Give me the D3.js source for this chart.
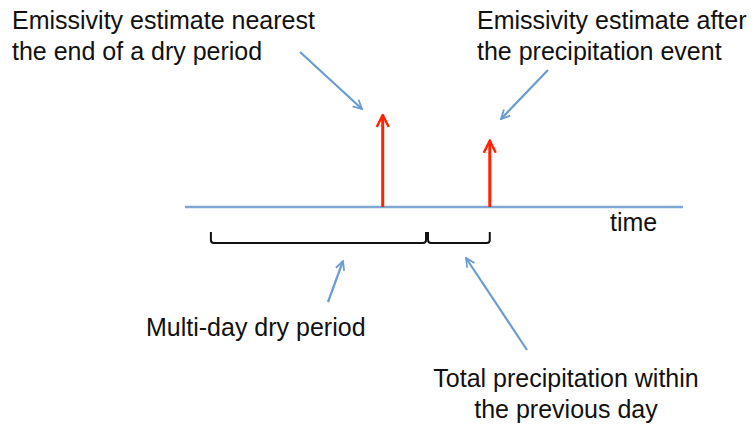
<!DOCTYPE html>
<html>
<head>
<meta charset="utf-8">
<script src="https://cdn.jsdelivr.net/npm/d3@7"></script>
<style>
  body { margin: 0; background: #fff; }
  svg text { font-family: "Liberation Sans", Arial, sans-serif; font-size: 25px; fill: #111; }
</style>
</head>
<body>
<div id="chart"></div>
<script>
// event positions along the time axis (0..1) and arrow heights (0..1)
const eventNames = ["end of dry period", "after precipitation"]
const eventTimes = [0.397, 0.612]
const eventHeights = [1.0, 0.72]

// periods under the axis
const periodNames = ["Multi-day dry period", "Total precipitation within the previous day"]
const periodStart = [0.052, 0.488]
const periodEnd = [0.484, 0.612]

const width = 756
const height = 428

const x = d3.scaleLinear().domain([0, 1]).range([185, 683])
const y = d3.scaleLinear().domain([0, 1]).range([207, 115])

const svg = d3.select("#chart").append("svg")
    .attr("width", width)
    .attr("height", height)

const defs = svg.append("defs")
function marker(id, color) {
    defs.append("marker")
        .attr("id", id)
        .attr("viewBox", "0 0 10 10")
        .attr("refX", 9).attr("refY", 5)
        .attr("markerWidth", 5).attr("markerHeight", 5)
        .attr("orient", "auto")
        .append("path")
        .attr("d", "M1,1 L9,5 L1,9")
        .attr("fill", "none")
        .attr("stroke", color)
        .attr("stroke-width", 1.6)
}
marker("red", "#ff2200")
marker("blue", "#6a9bd1")

// time axis
svg.append("line")
    .attr("x1", x(0)).attr("x2", x(1))
    .attr("y1", y(0)).attr("y2", y(0))
    .attr("stroke", "#7fa6d4").attr("stroke-width", 2.5)

svg.append("text").attr("x", 610).attr("y", 231).text("time")

// red event arrows
svg.append("g").selectAll("line")
    .data(eventTimes)
    .join("line")
    .attr("x1", d => x(d)).attr("x2", d => x(d))
    .attr("y1", y(0))
    .attr("y2", (d, i) => y(eventHeights[i]))
    .attr("stroke", "#ff2200").attr("stroke-width", 3)
    .attr("marker-end", "url(#red)")

// brackets
svg.append("g").selectAll("path")
    .data(periodStart)
    .join("path")
    .attr("d", (d, i) => {
        const a = x(d), b = x(periodEnd[i])
        return `M${a},232 L${a},240 Q${a},243 ${a + 3},243 L${b - 3},243 Q${b},243 ${b},240 L${b},232`
    })
    .attr("fill", "none").attr("stroke", "#111").attr("stroke-width", 2)

// blue pointer arrows
const pointers = [
    [300, 52, 362, 109],
    [548, 70, 501, 119],
    [328, 302, 343, 261],
    [527, 350, 466, 258]
]
svg.append("g").selectAll("line")
    .data(pointers)
    .join("line")
    .attr("x1", d => d[0]).attr("y1", d => d[1])
    .attr("x2", d => d[2]).attr("y2", d => d[3])
    .attr("stroke", "#6a9bd1").attr("stroke-width", 2.2)
    .attr("marker-end", "url(#blue)")

// labels
const labels = [
    [12, 29, "start", "Emissivity estimate nearest"],
    [12, 60, "start", "the end of a dry period"],
    [477, 29, "start", "Emissivity estimate after"],
    [477, 60, "start", "the precipitation event"],
    [146, 336, "start", periodNames[0]],
    [566, 387, "middle", "Total precipitation within"],
    [566, 418, "middle", "the previous day"]
]
svg.append("g").selectAll("text")
    .data(labels)
    .join("text")
    .attr("x", d => d[0]).attr("y", d => d[1])
    .attr("text-anchor", d => d[2])
    .text(d => d[3])
</script>
</body>
</html>
